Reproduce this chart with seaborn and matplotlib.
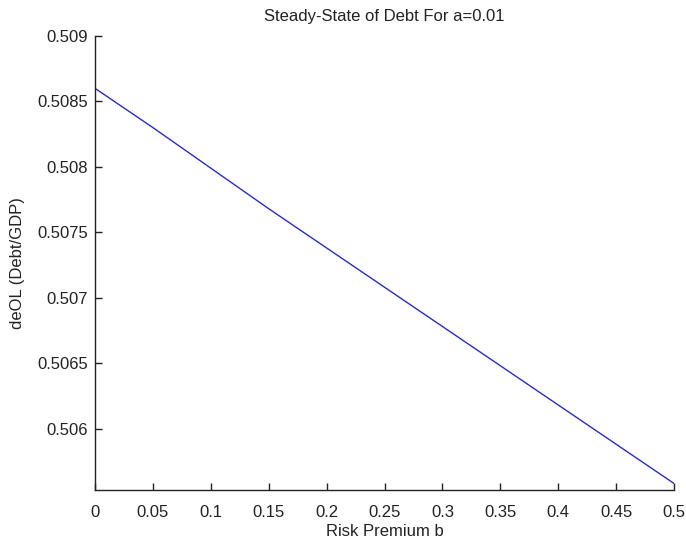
import matplotlib
matplotlib.use("Agg")
import matplotlib.pyplot as plt
import seaborn as sns
import pandas as pd

# Risk premium b and steady-state debt ratio deOL
risk_premium = [0.00, 0.05, 0.10, 0.15, 0.20, 0.25, 0.30, 0.35, 0.40, 0.45, 0.50]
debt_ratio = [0.50860, 0.50830, 0.50799, 0.50768, 0.50738, 0.50708,
              0.50678, 0.50648, 0.50618, 0.50588, 0.50558]

x_ticks = [0, 0.05, 0.1, 0.15, 0.2, 0.25, 0.3, 0.35, 0.4, 0.45, 0.5]
x_tick_labels = ["0", "0.05", "0.1", "0.15", "0.2", "0.25", "0.3", "0.35", "0.4", "0.45", "0.5"]
y_ticks = [0.506, 0.5065, 0.507, 0.5075, 0.508, 0.5085, 0.509]
y_tick_labels = ["0.506", "0.5065", "0.507", "0.5075", "0.508", "0.5085", "0.509"]

df = pd.DataFrame({"b": risk_premium, "deOL": debt_ratio})

sns.set_style("white")
plt.rcParams["font.family"] = ["Liberation Sans", "DejaVu Sans"]

fig = plt.figure(figsize=(6.86, 5.42), dpi=100)
ax = fig.add_axes([95 / 686, 52 / 542, 579 / 686, 454 / 542])

sns.lineplot(data=df, x="b", y="deOL", ax=ax, color="#2a2ad0", linewidth=1.0)

ax.set_xlim(0, 0.5)
ax.set_ylim(0.50553, 0.509)
ax.set_xticks(x_ticks)
ax.set_xticklabels(x_tick_labels)
ax.set_yticks(y_ticks)
ax.set_yticklabels(y_tick_labels)

for side in ("top", "right"):
    ax.spines[side].set_visible(False)
for side in ("left", "bottom"):
    ax.spines[side].set_color("#222222")
    ax.spines[side].set_linewidth(1.0)

ax.tick_params(axis="both", direction="in", length=5, width=1.0,
               color="#222222", labelsize=12, labelcolor="#222222",
               bottom=True, left=True)
ax.tick_params(axis="x", pad=11)
ax.tick_params(axis="y", pad=5)

ax.set_xlabel("Risk Premium b", fontsize=12, color="#222222", labelpad=3)
ax.set_ylabel("deOL (Debt/GDP)", fontsize=12, color="#222222", labelpad=9)
ax.set_title("Steady-State of Debt For a=0.01", fontsize=12, color="#222222", pad=11)

fig.savefig("out.png", dpi=100, facecolor="white")
